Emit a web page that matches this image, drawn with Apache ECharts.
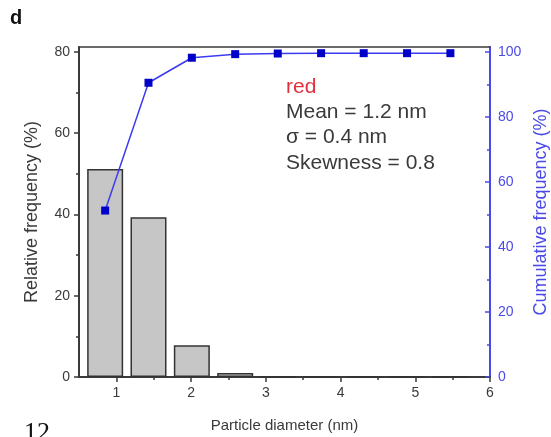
<!DOCTYPE html>
<html>
<head>
<meta charset="utf-8">
<script src="https://cdn.jsdelivr.net/npm/echarts@6/dist/echarts.min.js"></script>
<style>
html,body{margin:0;padding:0;background:#fff;}
#c{width:551px;height:437px;}
</style>
</head>
<body>
<div id="c"></div>
<script>
const diameters = [0.85, 1.43, 2.01, 2.59, 3.16, 3.74, 4.31, 4.89, 5.47];
const relativeFreq = [51.2, 39.3, 7.8, 1.0, 0, 0, 0, 0, 0];
const cumulativeFreq = [51.2, 90.5, 98.2, 99.3, 99.5, 99.6, 99.6, 99.6, 99.6];
const xTickLabels = [1, 2, 3, 4, 5, 6];
const xMinorTicks = [1.5, 2.5, 3.5, 4.5, 5.5];
const leftTickLabels = [0, 20, 40, 60, 80];
const leftMinorTicks = [10, 30, 50, 70];
const rightTickLabels = [0, 20, 40, 60, 80, 100];
const rightMinorTicks = [10, 30, 50, 70, 90];

const dark = '#3a3a3a';
const blue = '#4a4ae8';
const font = 'Liberation Sans, Arial, sans-serif';

const chart = echarts.init(document.getElementById('c'));
chart.setOption({
  animation: false,
  grid: {left: 79, right: 61, top: 47, bottom: 60, outerBoundsMode: 'none', containLabel: false},
  xAxis: [
    {
      type: 'value', min: 0.5, max: 6, position: 'bottom',
      axisLine: {show: true, onZero: false, lineStyle: {color: dark, width: 2}},
      axisTick: {show: true, customValues: xTickLabels, length: 5, lineStyle: {color: dark, width: 1.5}},
      axisLabel: {customValues: xTickLabels, color: dark, fontSize: 14, fontFamily: font, margin: 9},
      splitLine: {show: false},
      name: 'Particle diameter (nm)', nameLocation: 'middle', nameGap: 41,
      nameTextStyle: {color: dark, fontSize: 15, fontFamily: font}
    },
    {
      type: 'value', min: 0.5, max: 6, position: 'bottom',
      axisLine: {show: false, onZero: false},
      axisTick: {show: true, customValues: xMinorTicks, length: 3, lineStyle: {color: dark, width: 1.5}},
      axisLabel: {show: false}, splitLine: {show: false}
    },
    {
      type: 'value', min: 0.5, max: 6, position: 'top',
      axisLine: {show: true, onZero: false, lineStyle: {color: dark, width: 1.5}},
      axisTick: {show: false}, axisLabel: {show: false}, splitLine: {show: false}
    }
  ],
  yAxis: [
    {
      type: 'value', min: 0, max: 81.2, position: 'left',
      axisLine: {show: true, onZero: false, lineStyle: {color: dark, width: 2}},
      axisTick: {show: true, customValues: leftTickLabels, length: 5, lineStyle: {color: dark, width: 1.5}},
      axisLabel: {customValues: leftTickLabels, color: dark, fontSize: 14, fontFamily: font, margin: 9},
      splitLine: {show: false},
      name: 'Relative frequency (%)', nameLocation: 'middle', nameGap: 38, nameRotate: 90,
      nameTextStyle: {color: dark, fontSize: 18, fontFamily: font}
    },
    {
      type: 'value', min: 0, max: 101.5, position: 'right',
      axisLine: {show: true, onZero: false, lineStyle: {color: blue, width: 2}},
      axisTick: {show: true, inside: true, customValues: rightTickLabels, length: 5, lineStyle: {color: blue, width: 1.5}},
      axisLabel: {customValues: rightTickLabels, color: blue, fontSize: 14, fontFamily: font, margin: 8},
      splitLine: {show: false},
      name: 'Cumulative frequency (%)', nameLocation: 'middle', nameGap: 41, nameRotate: 90,
      nameTextStyle: {color: blue, fontSize: 18, fontFamily: font}
    },
    {
      type: 'value', min: 0, max: 81.2, position: 'left',
      axisLine: {show: false, onZero: false},
      axisTick: {show: true, customValues: leftMinorTicks, length: 3, lineStyle: {color: dark, width: 1.5}},
      axisLabel: {show: false}, splitLine: {show: false}
    },
    {
      type: 'value', min: 0, max: 101.5, position: 'right',
      axisLine: {show: false, onZero: false},
      axisTick: {show: true, inside: true, customValues: rightMinorTicks, length: 3, lineStyle: {color: blue, width: 1.5}},
      axisLabel: {show: false}, splitLine: {show: false}
    }
  ],
  series: [
    {
      type: 'bar', xAxisIndex: 0, yAxisIndex: 0, barWidth: 36,
      data: diameters.map((d, i) => [d, relativeFreq[i]]),
      itemStyle: {color: '#c6c6c6', borderColor: '#333', borderWidth: 1.5}
    },
    {
      type: 'line', xAxisIndex: 0, yAxisIndex: 1,
      data: diameters.map((d, i) => [d, cumulativeFreq[i]]),
      lineStyle: {color: '#3b3bf0', width: 1.5},
      symbol: 'rect', symbolSize: 8,
      itemStyle: {color: '#0000c8'}
    }
  ],
  graphic: [
    {type: 'text', left: 10, top: 8, style: {text: 'd', font: 'bold 20px ' + font, fill: '#111'}},
    {type: 'text', left: 24, top: 420, style: {text: '12', font: '26px Liberation Serif, serif', fill: '#111'}},
    {type: 'text', left: 286, top: 77, style: {text: 'red', font: '21px ' + font, fill: '#e0303e'}},
    {type: 'text', left: 286, top: 99, style: {text: 'Mean = 1.2 nm\nσ = 0.4 nm\nSkewness = 0.8', font: '21px ' + font, fill: dark, lineHeight: 25.5}}
  ]
});
</script>
</body>
</html>
